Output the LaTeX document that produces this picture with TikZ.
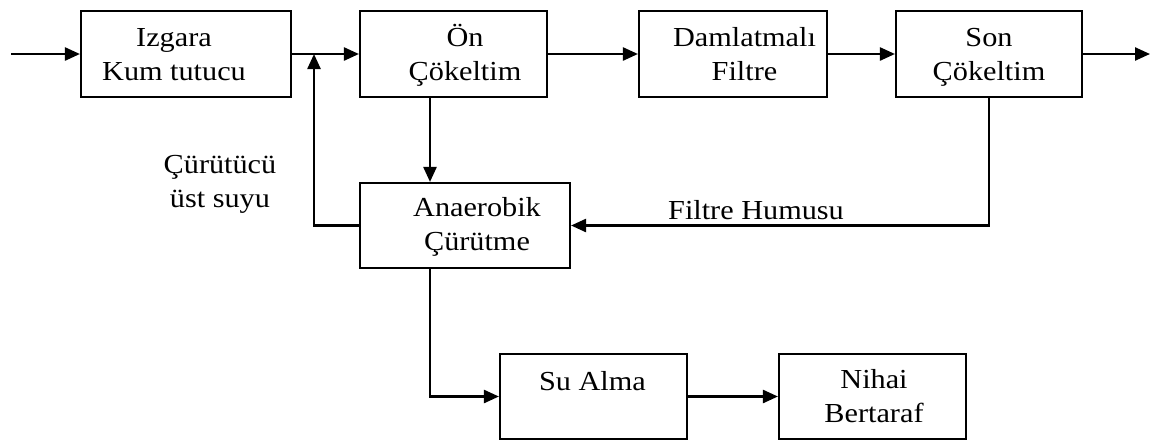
\documentclass[tikz,border=0pt]{standalone}
\usepackage{fontspec}
\setmainfont{Liberation Serif}[FakeStretch=1.1]
\usetikzlibrary{arrows.meta}
\begin{document}
\begin{tikzpicture}[x=1pt,y=-1pt,
  box/.style={draw, line width=2.1pt, inner sep=0pt, minimum width=#1, minimum height=86pt},
  txt/.style={inner sep=0pt, align=center, anchor=base,
    font=\fontsize{27.5}{34}\selectfont},
  flow/.style={line width=2.4pt, -{Triangle[length=15pt,width=13pt]}}]
\useasboundingbox (0,0) rectangle (1150,440);

% process boxes
\node[box=210pt] (izgara) at (186,54) {};
\node[box=187pt] (on)     at (453.5,54) {};
\node[box=188pt] (damla)  at (733,54) {};
\node[box=186pt] (son)    at (989,54) {};
\node[box=210pt, minimum height=85pt] (anaer) at (465,225.5) {};
\node[box=187pt, minimum height=85pt] (su)    at (593.5,396.5) {};
\node[box=187pt, minimum height=85pt] (nihai) at (872.5,396.5) {};

% box texts (anchored on the baseline of the last line)
\node[txt] (izgaraT) at (174,80) {Izgara\\Kum tutucu};
\node[txt] (onT)     at (465,80) {Ön\\Çökeltim};
\node[txt] (damlaT)  at (744.5,80) {Damlatmalı\\Filtre};
\node[txt] (sonT)    at (989,80) {Son\\Çökeltim};
\node[txt] (anaerT)  at (477,250) {Anaerobik\\Çürütme};
\node[txt] (suT)     at (592.5,390) {Su Alma};
\node[txt] (nihaiT)  at (874,422) {Nihai\\Bertaraf};

% stream labels
\node[txt] (ustsu) at (220,207) {Çürütücü\\üst suyu};
\node[txt] (humus) at (756,219) {Filtre Humusu};

% main line
\coordinate (in)  at (11,54);
\coordinate (out) at (1150,54);
\coordinate (join) at (314,54);
\draw[flow] (in) -- (izgara.west);
\draw[flow] (izgara.east) -- (on.west);
\draw[flow] (on.east) -- (damla.west);
\draw[flow] (damla.east) -- (son.west);
\draw[flow] (son.east) -- (out);

% sludge lines
\draw[flow] ([xshift=-23.5pt]on.south) -- ([xshift=-35pt]anaer.north);
\draw[flow] (son.south) |- (anaer.east);
\draw[flow] (anaer.west) -| (join);
\draw[flow] ([xshift=-35pt]anaer.south) |- (su.west);
\draw[flow] (su.east) -- (nihai.west);
\end{tikzpicture}
\end{document}
